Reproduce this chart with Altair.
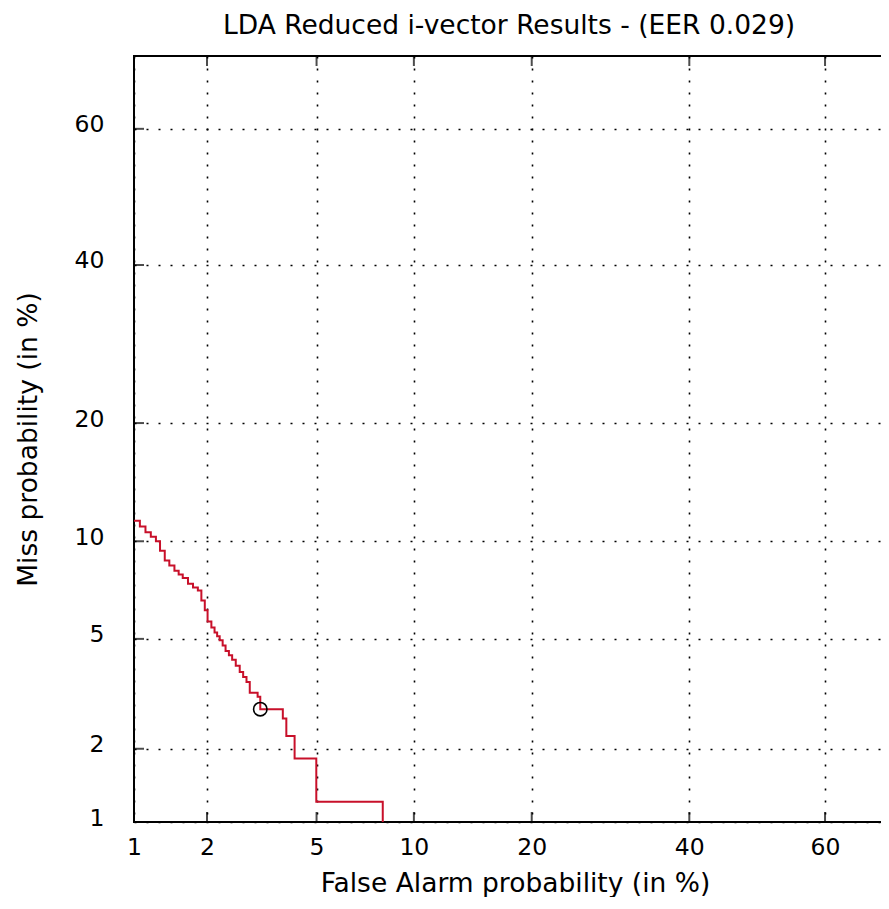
import altair as alt
import pandas as pd
from statistics import NormalDist

# ---- text ----
title_text = "LDA Reduced i-vector Results - (EER 0.029)"
x_title = "False Alarm probability (in %)"
y_title = "Miss probability (in %)"

# ---- DET curve (percent) ----
fa_pct = [1.00, 1.06, 1.12, 1.18, 1.24, 1.29, 1.35, 1.41, 1.48, 1.54, 1.60, 1.68,
          1.76, 1.84, 1.90, 1.96, 2.01, 2.08, 2.14, 2.19, 2.24, 2.30, 2.36, 2.43,
          2.50, 2.58, 2.67, 2.75, 2.83, 2.91, 3.11, 3.18, 3.83, 3.94, 4.21, 4.99, 8.11]
miss_pct = [11.4, 11.0, 10.6, 10.3, 10.0, 9.4, 8.8, 8.5, 8.2, 8.0, 7.8, 7.5,
            7.3, 7.15, 6.65, 6.2, 5.7, 5.45, 5.25, 5.1, 4.95, 4.75, 4.55, 4.4,
            4.25, 4.05, 3.85, 3.7, 3.55, 3.25, 3.14, 2.83, 2.61, 2.24, 1.83, 1.22, 1.0]

# EER marker
eer_fa = [3.18]
eer_miss = [2.83]

# ticks and limits (percent)
x_ticks_pct = [1, 2, 5, 10, 20, 40, 60]
y_ticks_pct = [1, 2, 5, 10, 20, 40, 60]
x_limits_pct = [1, 69.0]   # right side of the figure is cropped
y_limits_pct = [1, 70]

nd = NormalDist()


def probit(p):
    return nd.inv_cdf(p / 100.0)


W, H = 756, 766
FONT = "DejaVu Sans"
TICK_LEN = 10

x_lo, x_hi = probit(x_limits_pct[0]), probit(x_limits_pct[1])
y_lo, y_hi = probit(y_limits_pct[0]), probit(y_limits_pct[1])

curve = pd.DataFrame({"fa": fa_pct, "miss": miss_pct})
curve["x"] = curve["fa"].map(probit)
curve["y"] = curve["miss"].map(probit)

eer = pd.DataFrame({"fa": eer_fa, "miss": eer_miss})
eer["x"] = eer["fa"].map(probit)
eer["y"] = eer["miss"].map(probit)

xt = pd.DataFrame({"x": [probit(v) for v in x_ticks_pct]})
xt["ytop"] = y_hi
xt["ybot"] = y_lo
yt = pd.DataFrame({"y": [probit(v) for v in y_ticks_pct]})
yt["xleft"] = x_lo

xs = alt.Scale(domain=[x_lo, x_hi], nice=False, zero=False)
ys = alt.Scale(domain=[y_lo, y_hi], nice=False, zero=False)

label_expr = "format(cumulativeNormal(datum.value)*100, '.0f')"

x_axis = alt.Axis(
    values=[probit(v) for v in x_ticks_pct], labelExpr=label_expr, title=x_title,
    grid=True, gridDash=[2, 10], gridColor="black", gridWidth=1.6, gridOpacity=1,
    ticks=False, tickSize=0, domain=False,
    labelFont=FONT, labelFontSize=23.5, labelColor="black", labelPadding=13,
    labelFlush=False, labelOverlap=False,
    titleFont=FONT, titleFontSize=26.5, titleFontWeight="normal", titleColor="black",
    titleX=381, titleY=69, titleAlign="center", titleBaseline="alphabetic",
)
y_axis = alt.Axis(
    values=[probit(v) for v in y_ticks_pct], labelExpr=label_expr, title=y_title,
    grid=True, gridDash=[2, 10], gridColor="black", gridWidth=1.6, gridOpacity=1,
    ticks=False, tickSize=0, domain=False,
    labelFont=FONT, labelFontSize=23.5, labelColor="black", labelPadding=30,
    labelOffset=-4, labelFlush=False, labelOverlap=False,
    titleFont=FONT, titleFontSize=26.5, titleFontWeight="normal", titleColor="black",
    titleX=-106, titleY=H / 2, titleAlign="center", titleBaseline="middle", titleAngle=270,
)

X = alt.X("x:Q", scale=xs, axis=x_axis)
Y = alt.Y("y:Q", scale=ys, axis=y_axis)

line = alt.Chart(curve).mark_line(
    color="#c8102a", strokeWidth=2, interpolate="step-after", clip=True
).encode(x=X, y=Y, order=alt.Order("fa:Q"))

eer_pt = alt.Chart(eer).mark_point(
    shape="circle", size=180, filled=False, color="black", strokeWidth=1.6, opacity=1
).encode(x=X, y=Y)

# inward tick marks on the bottom, top and left frame edges (half clipped by the frame)
bottom_ticks = alt.Chart(xt).mark_tick(
    color="black", thickness=2, size=2 * TICK_LEN, orient="vertical", clip=True
).encode(x=X, y=alt.Y("ybot:Q", scale=ys, axis=y_axis))
top_ticks = alt.Chart(xt).mark_tick(
    color="black", thickness=2, size=2 * TICK_LEN, orient="vertical", clip=True
).encode(x=X, y=alt.Y("ytop:Q", scale=ys, axis=y_axis))
left_ticks = alt.Chart(yt).mark_tick(
    color="black", thickness=2, size=2 * TICK_LEN, orient="horizontal", clip=True
).encode(y=Y, x=alt.X("xleft:Q", scale=xs, axis=x_axis))

chart = alt.layer(line, eer_pt, bottom_ticks, top_ticks, left_ticks).properties(
    width=W, height=H,
    background="white",
    title=alt.TitleParams(
        text=title_text, font=FONT, fontSize=26.5, fontWeight="normal", color="black",
        anchor="middle", baseline="alphabetic", offset=-4, dx=-3,
    ),
    autosize=alt.AutoSizeParams(type="none"),
    padding={"left": 126, "top": 48, "right": -9, "bottom": 75},
).configure_view(stroke="black", strokeWidth=2)

chart.save("out.html", embed_options={"renderer": "svg", "actions": False})
